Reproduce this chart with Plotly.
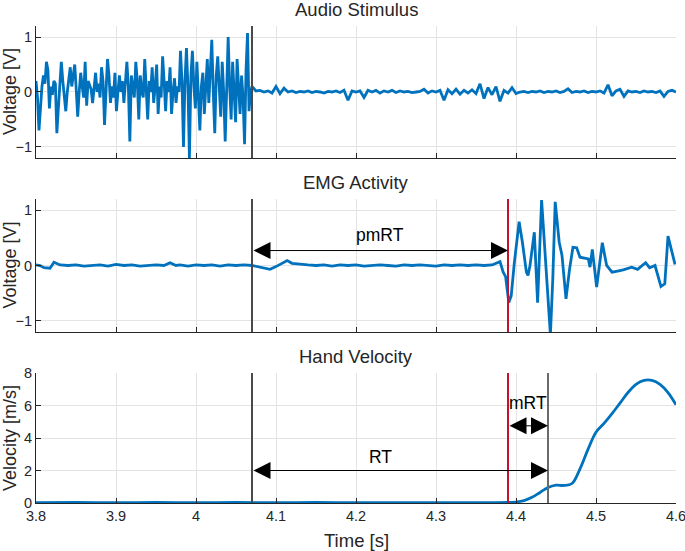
import numpy as np
import plotly.graph_objects as go

# ---------------- data ----------------
x_ticks = [3.8, 3.9, 4.0, 4.1, 4.2, 4.3, 4.4, 4.5, 4.6]
x_tick_labels = ["3.8", "3.9", "4", "4.1", "4.2", "4.3", "4.4", "4.5", "4.6"]

stim_time = 4.07     # end of audio stimulus
emg_onset = 4.39     # EMG onset
move_onset = 4.44    # movement onset

audio_pre_v = [
    0.2, -0.1, -0.7, -0.2, 0.1, 0.3, 0.15, 0.55, 0.4, -0.3, 0.1, -0.05, 0.2, 0.15, -0.75, -0.3, 0.2, 0.55,
    0.2, -0.1, -0.35, 0.0, 0.2, 0.45, 0.1, 0.3, 0.5, 0.05, -0.45, 0.0, 0.35, 0.1, -0.1, 0.55, -0.25,
    0.2, 0.1, 0.05, -0.2, 0.1, 0.35, 0.0, 0.15, -0.1, 0.45, 0.2, -0.6, 0.0, 0.6, 0.3, -0.2, 0.1, -0.1,
    0.35, -0.35, 0.0, 0.3, 0.0, 0.2, -0.2, 0.2, 0.55, 0.1, -0.9, 0.3, 0.1, -0.1, 0.55, 0.2, -0.5,
    0.3, 0.0, -0.1, 0.6, 0.1, -0.5, 0.2, 0.0, 0.45, -0.2, 0.1, 0.5, -0.4, 0.1, -0.1, 0.65, 0.2, -0.35,
    0.2, 0.0, 0.45, -0.4, 0.0, 0.25, -0.2, 0.1, 0.0, 0.75, 0.2, -1.0, 0.2, 0.8, 0.1, -1.2, 0.3,
    0.75, 0.1, -0.3, 0.55, 0.0, -0.7, 0.1, 0.35, -0.4, 0.2, 0.6, -0.2, 0.3, 0.95, 0.0, -0.75, 0.3, 0.65,
    0.1, -0.45, 0.55, 0.0, -0.9, 0.2, 1.0, 0.1, -0.5, 0.55, -0.1, -0.55, 0.6, 0.0, -0.4, 0.3, -0.1,
    -0.95, 0.4, 1.07, -0.35, 0.0, 0.1,
]
audio_pre_t = list(np.linspace(3.8, 4.07, len(audio_pre_v)))

audio_post_v = [
    0.02, 0.03, 0.0, 0.02, -0.02, 0.1, -0.03, 0.07, 0.0, 0.02,
    -0.01, 0.01, 0.0, 0.02, -0.01, 0.01, 0.0, -0.02, 0.01, 0.0,
    0.02, -0.01, 0.03, -0.15, 0.02, 0.0, 0.02, -0.1, 0.03, 0.0,
    0.03, -0.02, 0.02, 0.0, 0.03, -0.01, 0.02, 0.0, 0.01, -0.01,
    0.0, 0.01, 0.05, -0.02, 0.02, 0.0, 0.03, -0.15, 0.04, -0.03,
    0.05, -0.04, 0.03, -0.02, 0.04, -0.03, 0.15, -0.12, 0.08, -0.05,
    0.1, -0.17, 0.03, -0.02, 0.08, -0.03, 0.0, 0.01, -0.01, 0.01,
    0.0, 0.02, -0.01, 0.01, 0.0, 0.02, -0.01, 0.01, 0.06, -0.01,
    0.01, 0.0, 0.02, -0.01, 0.01, 0.0, 0.02, -0.02, 0.13, -0.07,
    0.02, 0.05, -0.08, 0.02, 0.0, 0.01, -0.01, 0.02, 0.0, 0.01,
    -0.01, 0.02, -0.08, 0.01, 0.03, 0.0,
]
audio_post_t = list(4.075 + 0.005 * np.arange(len(audio_post_v)))

emg_t = [
    3.800, 3.805, 3.810, 3.8175, 3.8225, 3.830, 3.840, 3.850, 3.860, 3.870,
    3.880, 3.890, 3.900, 3.910, 3.920, 3.930, 3.940, 3.950, 3.960, 3.9675,
    3.975, 3.980, 3.990, 4.000, 4.010, 4.020, 4.030, 4.040, 4.050, 4.060,
    4.070, 4.080, 4.0925, 4.100, 4.114, 4.120, 4.130, 4.140, 4.150, 4.160,
    4.170, 4.180, 4.190, 4.200, 4.210, 4.220, 4.230, 4.240, 4.250, 4.260,
    4.270, 4.280, 4.290, 4.300, 4.310, 4.320, 4.330, 4.340, 4.350, 4.360,
    4.370, 4.3738, 4.380, 4.384, 4.387, 4.391, 4.394, 4.398, 4.4039, 4.408,
    4.413, 4.415, 4.4175, 4.4229, 4.427, 4.432, 4.437, 4.443, 4.446, 4.449,
    4.454, 4.4575, 4.4625, 4.467, 4.4712, 4.4758, 4.480, 4.4904, 4.4925, 4.4954,
    4.5008, 4.5079, 4.5133, 4.520, 4.527, 4.534, 4.5446, 4.552, 4.562, 4.567,
    4.5738, 4.5812, 4.586, 4.590, 4.5988,
]
emg_v = [
    0.01, 0.0, -0.04, -0.05, 0.06, 0.01, 0.0, 0.01, -0.01, 0.0,
    0.01, -0.01, 0.02, 0.0, 0.01, -0.01, 0.0, 0.01, 0.0, 0.05,
    0.0, 0.01, -0.01, 0.01, 0.0, 0.01, -0.01, 0.01, 0.0, 0.01,
    0.0, -0.03, -0.07, -0.02, 0.09, 0.04, 0.02, 0.01, 0.0, 0.01,
    -0.01, 0.01, 0.0, 0.01, -0.01, 0.0, 0.01, 0.0, -0.01, 0.01,
    0.0, 0.01, 0.0, -0.01, 0.01, 0.0, 0.01, 0.0, 0.01, 0.0,
    0.01, 0.03, 0.07, -0.12, -0.2, -0.67, -0.55, 0.06, 0.79, 0.42,
    -0.12, -0.18, 0.0, 0.6, -0.67, 1.18, 0.06, -1.25, -0.24, 1.15,
    0.42, 0.18, -0.6, -0.06, 0.33, 0.32, 0.15, 0.12, -0.03, 0.29,
    -0.39, 0.41, 0.0, -0.12, -0.1, -0.08, -0.03, -0.07, 0.05, -0.04,
    0.0, -0.38, -0.33, 0.53, 0.02,
]

vel_t = [
    3.80, 3.85, 3.90, 3.95, 4.00, 4.05, 4.10, 4.15, 4.20, 4.25, 4.30, 4.35, 4.39,
    4.40, 4.41, 4.42, 4.43, 4.44, 4.45, 4.46, 4.47, 4.48, 4.49, 4.50, 4.51, 4.52,
    4.53, 4.54, 4.55, 4.56, 4.57, 4.58, 4.59, 4.60,
]
vel_v = [
    0.02, 0.03, 0.02, 0.03, 0.02, 0.03, 0.02, 0.03, 0.02, 0.02, 0.02, 0.02, 0.03,
    0.06, 0.15, 0.35, 0.65, 0.95, 1.1, 1.08, 1.2, 2.1, 3.3, 4.35, 4.9, 5.5,
    6.15, 6.8, 7.3, 7.55, 7.55, 7.3, 6.8, 6.05,
]

panel_titles = ["Audio Stimulus", "EMG Activity", "Hand Velocity"]
y_titles = ["Voltage [V]", "Voltage [V]", "Velocity [m/s]"]
x_title = "Time [s]"

# ---------------- styles ----------------
BLUE = "#0072BD"
AX = "#262626"
GRID = "#e3e3e3"
RED = "#C8102E"
DARK = "#4a4a4a"
GRAY = "#6a6a6a"
FONT = "Liberation Sans, Arial, sans-serif"

fig = go.Figure()
fig.add_trace(go.Scatter(x=audio_pre_t + audio_post_t, y=audio_pre_v + audio_post_v,
                         mode="lines", line=dict(color=BLUE, width=2.8),
                         xaxis="x", yaxis="y", showlegend=False))
fig.add_trace(go.Scatter(x=emg_t, y=emg_v, mode="lines", line=dict(color=BLUE, width=2.8),
                         xaxis="x2", yaxis="y2", showlegend=False))
fig.add_trace(go.Scatter(x=vel_t, y=vel_v, mode="lines", line=dict(color=BLUE, width=2.8),
                         line_shape="spline", xaxis="x3", yaxis="y3", showlegend=False))

domains = [[0.7233, 1.0], [0.3585, 0.6373], [0.0, 0.2725]]
yranges = [[-1.2, 1.2], [-1.2, 1.2], [0, 8]]
yticks = [[-1, 0, 1], [-1, 0, 1], [0, 2, 4, 6, 8]]

layout = dict(
    width=685, height=551,
    margin=dict(l=36, r=9, t=26, b=48),
    paper_bgcolor="white", plot_bgcolor="white",
    font=dict(family=FONT, color=AX, size=14.5),
    showlegend=False,
)
for i in range(3):
    sx = "" if i == 0 else str(i + 1)
    layout["xaxis" + sx] = dict(
        domain=[0, 1], anchor="y" + sx, range=[3.8, 4.6],
        tickvals=x_ticks, ticktext=x_tick_labels, showticklabels=(i == 2),
        ticks="inside", ticklen=5, tickcolor=AX, showline=True, linecolor=AX, linewidth=1,
        showgrid=True, gridcolor=GRID, gridwidth=1, zeroline=False, automargin=False,
        ticklabeloverflow="allow", tickfont=dict(size=14.5, color=AX),
    )
    layout["yaxis" + sx] = dict(
        domain=domains[i], anchor="x" + sx, range=yranges[i], tickvals=yticks[i],
        ticks="inside", ticklen=5, tickcolor=AX, showline=True, linecolor=AX, linewidth=1,
        showgrid=True, gridcolor=GRID, gridwidth=1, zeroline=False, automargin=False,
        ticklabeloverflow="allow", tickfont=dict(size=14.5, color=AX),
    )
fig.update_layout(**layout)

# vertical event lines
def vline(x, axis_suffix, color, width):
    fig.add_shape(type="line", x0=x, x1=x, y0=0, y1=1,
                  xref="x" + axis_suffix, yref=("y" + axis_suffix + " domain"),
                  line=dict(color=color, width=width), layer="above")

vline(stim_time, "", DARK, 2)
vline(stim_time, "2", DARK, 2)
vline(emg_onset, "2", RED, 2)
vline(stim_time, "3", DARK, 2)
vline(emg_onset, "3", RED, 2)
vline(move_onset, "3", GRAY, 2)

# panel titles and axis titles
for t, yt, d in zip(panel_titles, y_titles, domains):
    fig.add_annotation(text=t, x=0.5, xref="paper", y=d[1], yref="paper", yanchor="bottom",
                       yshift=4, showarrow=False, font=dict(size=18.5, color=AX))
    fig.add_annotation(text=yt, x=0, xref="paper", y=(d[0] + d[1]) / 2, yref="paper",
                       xanchor="center", yanchor="middle", xshift=-26, textangle=-90,
                       showarrow=False, font=dict(size=18, color=AX))
fig.add_annotation(text=x_title, x=0.5, xref="paper", y=0, yref="paper", yanchor="middle",
                   yshift=-37, showarrow=False, font=dict(size=18.5, color=AX))

# arrows
def darrow(x0, x1, y, sx):
    fig.add_annotation(x=x1, y=y, ax=x0, ay=y, xref="x" + sx, yref="y" + sx,
                       axref="x" + sx, ayref="y" + sx, text="", showarrow=True,
                       arrowhead=2, startarrowhead=2, arrowside="end+start",
                       arrowsize=3.4, startarrowsize=3.4, arrowwidth=1, arrowcolor="black",
                       standoff=0, startstandoff=0)

def label(text, x, y, sx):
    fig.add_annotation(x=x, y=y, xref="x" + sx, yref="y" + sx, text=text, showarrow=False,
                       font=dict(size=17.5, color="black"))

darrow(stim_time, emg_onset, 0.27, "2")
label("pmRT", 4.23, 0.55, "2")
darrow(stim_time, move_onset, 2.0, "3")
label("RT", 4.23, 2.85, "3")
darrow(emg_onset, move_onset, 4.75, "3")
label("mRT", 4.415, 6.15, "3")

fig.write_html(
    "out.html",
    config={"displayModeBar": False},
    post_script="document.body.style.margin='0px';document.body.style.overflow='hidden';",
)
